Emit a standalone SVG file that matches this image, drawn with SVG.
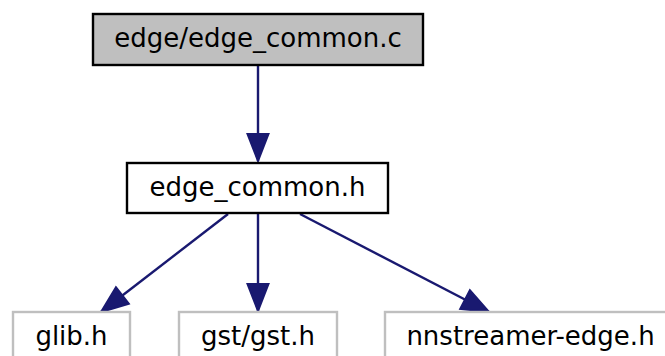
<svg xmlns="http://www.w3.org/2000/svg" width="665" height="356" viewBox="0 0 665 356">
<defs>
<style>
.lbl{font-family:"DejaVu Sans",sans-serif;font-size:26px;text-anchor:middle;fill:#000}
.main{fill:#bfbfbf;stroke:#000;stroke-width:2.4}
.node{fill:#fff;stroke:#000;stroke-width:2.4}
.ext{fill:#fff;stroke:#bfbfbf;stroke-width:2.4}
.edge{stroke:#191970;stroke-width:2.4;fill:none;marker-end:url(#arr)}
</style>
<marker id="arr" markerUnits="userSpaceOnUse" markerWidth="30" markerHeight="24" refX="27" refY="10.5" orient="auto" overflow="visible">
<path d="M0,0 L27,10.5 L0,21 z" fill="#191970" stroke="#191970" stroke-width="2"/>
</marker>
</defs>
<rect width="665" height="356" fill="#fff"/>
<g id="edges">
<path class="edge" d="M258,65 L258,161"/>
<path class="edge" d="M228,214 L101,312"/>
<path class="edge" d="M258,214 L258,311"/>
<path class="edge" d="M300,214 L489,312"/>
</g>
<g id="node-edge_common_c">
<rect class="main" x="93" y="14" width="330" height="51"/>
<text class="lbl" x="258" y="46.5">edge/edge_common.c</text>
</g>
<g id="node-edge_common_h">
<rect class="node" x="127" y="163" width="261" height="50"/>
<text class="lbl" x="257.5" y="195.5">edge_common.h</text>
</g>
<g id="node-glib_h">
<rect class="ext" x="13" y="312" width="117" height="51"/>
<text class="lbl" x="71.5" y="344.5">glib.h</text>
</g>
<g id="node-gst_h">
<rect class="ext" x="179" y="312" width="158" height="51"/>
<text class="lbl" x="258" y="344.5">gst/gst.h</text>
</g>
<g id="node-nnstreamer_edge_h">
<rect class="ext" x="385" y="312" width="291" height="51"/>
<text class="lbl" x="530.5" y="344.5">nnstreamer-edge.h</text>
</g>
</svg>
